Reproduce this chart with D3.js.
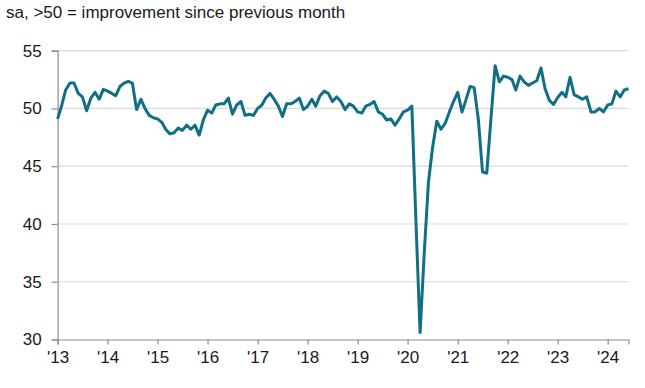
<!DOCTYPE html>
<html>
<head>
<meta charset="utf-8">
<script src="https://cdn.jsdelivr.net/npm/d3@7"></script>
<style>
  html, body { margin: 0; padding: 0; background: #ffffff; }
  svg { display: block; }
  text { font-family: "Liberation Sans", Arial, sans-serif; fill: #1a1a1a; }
</style>
</head>
<body>
<div id="chart"></div>
<script>
// ---- data (monthly, Jan 2013 – Jun 2024) ----
const startMonth = "2013-01";
const values2013 = [49.1, 50.3, 51.6, 52.2, 52.2, 51.3, 51.0, 49.8, 50.9, 51.4, 50.8, 51.65];
const values2014 = [51.5, 51.3, 51.1, 51.9, 52.2, 52.35, 52.2, 49.9, 50.8, 50.0, 49.4, 49.2];
const values2015 = [49.1, 48.8, 48.2, 47.8, 47.9, 48.3, 48.1, 48.55, 48.2, 48.55, 47.7, 49.0];
const values2016 = [49.85, 49.6, 50.3, 50.4, 50.4, 50.9, 49.5, 50.3, 50.6, 49.4, 49.5, 49.4];
const values2017 = [50.0, 50.3, 50.9, 51.3, 50.8, 50.2, 49.3, 50.4, 50.4, 50.6, 50.9, 49.9];
const values2018 = [50.2, 50.8, 50.2, 51.1, 51.5, 51.3, 50.6, 51.0, 50.6, 49.9, 50.4, 50.2];
const values2019 = [49.7, 49.6, 50.2, 50.35, 50.6, 49.7, 49.5, 49.0, 49.1, 48.55, 49.1, 49.7];
const values2020 = [49.85, 50.2, 40.5, 30.6, 37.4, 43.6, 46.6, 48.9, 48.2, 48.7, 49.7, 50.6];
const values2021 = [51.4, 49.7, 50.7, 51.9, 51.8, 49.0, 44.5, 44.4, 49.2, 53.7, 52.3, 52.8];
const values2022 = [52.7, 52.5, 51.6, 52.8, 52.3, 52.0, 52.2, 52.4, 53.5, 51.7, 50.7, 50.35];
const values2023 = [50.95, 51.4, 51.0, 52.7, 51.2, 51.0, 50.8, 51.0, 49.7, 49.7, 50.0, 49.7];
const values2024 = [50.3, 50.4, 51.5, 51.0, 51.6, 51.7];

const yTicks = [30, 35, 40, 45, 50, 55];
const xTickYears = [2013, 2014, 2015, 2016, 2017, 2018, 2019, 2020, 2021, 2022, 2023, 2024];
const xTickLabels = ["'13", "'14", "'15", "'16", "'17", "'18", "'19", "'20", "'21", "'22", "'23", "'24"];
const subtitle = "sa, >50 = improvement since previous month";

// ---- build series ----
const allValues = [].concat(values2013, values2014, values2015, values2016, values2017,
  values2018, values2019, values2020, values2021, values2022, values2023, values2024);
const [sy, sm] = startMonth.split("-").map(Number);
const series = allValues.map((v, i) => ({ date: new Date(sy, sm - 1 + i, 1), value: v }));

// ---- layout ----
const W = 645, H = 388;
const mLeft = 57.6, mRight = 628.5, mTop = 50.7, mBottom = 339.5;

const svg = d3.select("#chart").append("svg").attr("width", W).attr("height", H);

const x = d3.scaleTime()
  .domain([series[0].date, series[series.length - 1].date])
  .range([mLeft, mRight]);
const y = d3.scaleLinear().domain([30, 55]).range([mBottom, mTop]);

// gridlines
svg.append("g").selectAll("line").data(yTicks.filter(t => t > 30)).join("line")
  .attr("x1", mLeft).attr("x2", mRight)
  .attr("y1", d => y(d)).attr("y2", d => y(d))
  .attr("stroke", "#d9d9d9").attr("stroke-width", 1.2);

// y axis
const yAxis = svg.append("g").attr("transform", `translate(${mLeft},0)`)
  .call(d3.axisLeft(y).tickValues(yTicks).tickSize(6).tickPadding(10).tickFormat(d3.format("d")));
yAxis.select(".domain").attr("stroke", "#8c8c8c").attr("stroke-width", 1.2);
yAxis.selectAll(".tick line").attr("stroke", "#8c8c8c").attr("stroke-width", 1.2);
yAxis.selectAll(".tick text").attr("font-size", 17).attr("fill", "#1a1a1a")
  .attr("font-family", "Liberation Sans, Arial, sans-serif");

// x axis
const xAxis = svg.append("g").attr("transform", `translate(0,${mBottom})`)
  .call(d3.axisBottom(x)
    .tickValues(xTickYears.map(yr => new Date(yr, 0, 1)))
    .tickSize(5).tickPadding(6)
    .tickFormat((d, i) => xTickLabels[i]));
xAxis.select(".domain").attr("stroke", "#8c8c8c").attr("stroke-width", 1.2);
xAxis.selectAll(".tick line").attr("stroke", "#8c8c8c").attr("stroke-width", 1.2);
xAxis.selectAll(".tick text").attr("font-size", 17).attr("fill", "#1a1a1a")
  .attr("font-family", "Liberation Sans, Arial, sans-serif");

// line
const line = d3.line().x(d => x(d.date)).y(d => y(d.value)).curve(d3.curveLinear);
svg.append("path").datum(series)
  .attr("fill", "none")
  .attr("stroke", "#106f86")
  .attr("stroke-width", 3)
  .attr("stroke-linejoin", "round")
  .attr("stroke-linecap", "butt")
  .attr("d", line);

// subtitle
svg.append("text").attr("x", 6).attr("y", 18)
  .attr("font-size", 17).attr("fill", "#333333")
  .text(subtitle);
</script>
</body>
</html>
